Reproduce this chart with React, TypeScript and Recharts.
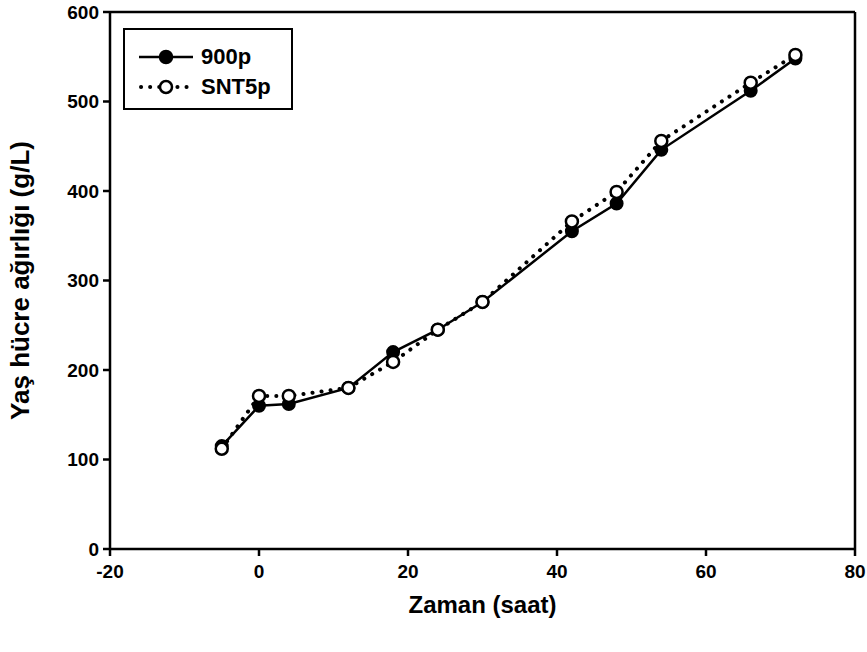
import { LineChart, Line, XAxis, YAxis, ReferenceLine } from "recharts";

const hours = [-5, 0, 4, 12, 18, 24, 30, 42, 48, 54, 66, 72];
const weight900p = [115, 160, 162, 180, 220, 245, 276, 355, 386, 446, 512, 548];
const weightSNT5p = [112, 171, 171, 180, 209, 245, 276, 366, 399, 456, 521, 552];
const xTicks = [-20, 0, 20, 40, 60, 80];
const yTicks = [0, 100, 200, 300, 400, 500, 600];

const rows = hours.map((h, i) => ({ x: h, a: weight900p[i], b: weightSNT5p[i] }));

const FONT = "Arial, 'Liberation Sans', sans-serif";

const LegendBox = () => (
  <div
    style={{
      position: "absolute",
      left: 123,
      top: 28,
      border: "2.5px solid #000",
      width: 170,
      height: 82,
      background: "#fff",
      fontFamily: FONT,
      fontWeight: 700,
      fontSize: 22,
      boxSizing: "border-box",
      paddingTop: 12,
    }}
  >
    {[
      { label: "900p", dotted: false },
      { label: "SNT5p", dotted: true },
    ].map((it) => (
      <div key={it.label} style={{ display: "flex", alignItems: "center", height: 30 }}>
        <svg width={64} height={20} style={{ marginLeft: 12 }}>
          {it.dotted ? (
            <line x1={4} y1={10} x2={56} y2={10} stroke="#000" strokeWidth={4} strokeDasharray="0.1 9" strokeLinecap="round" />
          ) : (
            <line x1={2} y1={10} x2={56} y2={10} stroke="#000" strokeWidth={2.5} />
          )}
          <circle cx={29} cy={10} r={6} fill={it.dotted ? "#fff" : "#000"} stroke="#000" strokeWidth={2.5} />
        </svg>
        <span>{it.label}</span>
      </div>
    ))}
  </div>
);

export default function App() {
  return (
    <div style={{ position: "absolute", left: 0, top: 0, width: 867, height: 652, background: "#fff" }}>
      <LineChart width={867} height={652} data={rows} margin={{ top: 12, right: 12, bottom: 0, left: 40 }}>
        <XAxis
          type="number"
          dataKey="x"
          domain={[-20, 80]}
          ticks={xTicks}
          interval={0}
          stroke="#000"
          strokeWidth={2.5}
          tickSize={7}
          tickMargin={9}
          tick={{ fill: "#000", fontFamily: FONT, fontWeight: 700, fontSize: 19 }}
          height={103}
          label={{ value: "Zaman (saat)", position: "insideTop", offset: 47, fill: "#000", fontFamily: FONT, fontWeight: 700, fontSize: 24 }}
        />
        <YAxis
          type="number"
          domain={[0, 600]}
          ticks={yTicks}
          interval={0}
          stroke="#000"
          strokeWidth={2.5}
          tickSize={7}
          tickMargin={4}
          width={70}
          tick={{ fill: "#000", fontFamily: FONT, fontWeight: 700, fontSize: 19 }}
          label={{ value: "Yaş hücre ağırlığı (g/L)", angle: -90, position: "insideLeft", offset: -20, fill: "#000", fontFamily: FONT, fontWeight: 700, fontSize: 26, textAnchor: "middle" }}
        />
        <ReferenceLine y={600} stroke="#000" strokeWidth={2.5} />
        <ReferenceLine x={80} stroke="#000" strokeWidth={2.5} />
        <Line
          name="900p"
          dataKey="a"
          stroke="#000"
          strokeWidth={2.5}
          dot={{ r: 6, fill: "#000", stroke: "#000", strokeWidth: 2 }}
          isAnimationActive={false}
        />
        <Line
          name="SNT5p"
          dataKey="b"
          stroke="#000"
          strokeWidth={4}
          strokeDasharray="0.1 9"
          strokeLinecap="round"
          dot={{ r: 6, fill: "#fff", stroke: "#000", strokeWidth: 2.5, strokeDasharray: "0" }}
          isAnimationActive={false}
        />
      </LineChart>
      <LegendBox />
    </div>
  );
}
